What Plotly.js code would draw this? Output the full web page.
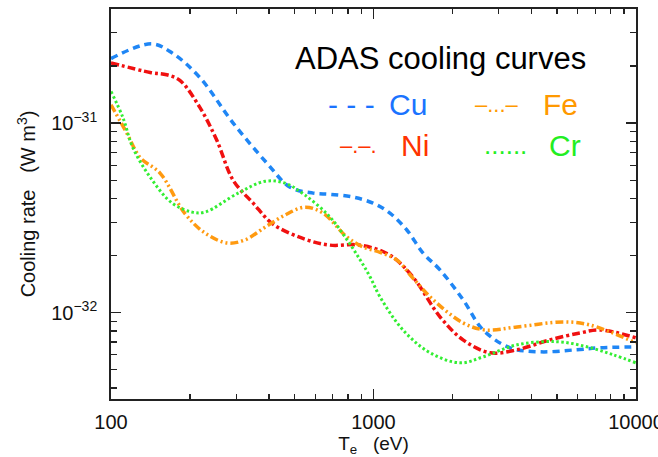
<!DOCTYPE html>
<html>
<head>
<meta charset="utf-8">
<script src="https://cdn.plot.ly/plotly-3.0.1.min.js"></script>
<style>html,body{margin:0;padding:0;background:#fff;}#chart{width:658px;height:457px;}</style>
</head>
<body>
<div id="chart"></div>
<script>
// Electron temperature (eV) and cooling rate (W m^3)
const cuTe = [100, 143, 172, 218, 292, 393, 481, 589, 683, 835, 996, 1155, 1342, 1545, 1792, 2193, 2613, 3311, 4306, 5954, 7290, 10000];
const cuL  = [2.19e-31, 2.62e-31, 2.33e-31, 1.74e-31, 1.0e-31, 6.14e-32, 4.59e-32, 4.27e-32, 4.21e-32, 4.07e-32, 3.78e-32, 3.35e-32, 2.72e-32, 2.06e-32, 1.68e-32, 1.17e-32, 8.11e-33, 6.52e-33, 6.21e-33, 6.37e-33, 6.52e-33, 6.6e-33];

const niTe = [100, 141, 163, 183, 218, 253, 292, 348, 414, 548, 683, 890, 1155, 1413, 1792, 2193, 2780, 3524, 4699, 6120, 7290, 10000];
const niL  = [2.08e-31, 1.85e-31, 1.80e-31, 1.68e-31, 1.21e-31, 8.11e-32, 4.99e-32, 3.78e-32, 2.93e-32, 2.44e-32, 2.27e-32, 2.27e-32, 2.01e-32, 1.54e-32, 9.5e-33, 7.18e-33, 6.14e-33, 6.37e-33, 7.18e-33, 7.81e-33, 8.1e-33, 7.36e-33];

const feTe = [100, 115, 129, 154, 191, 228, 277, 324, 386, 460, 548, 642, 793, 912, 1059, 1230, 1413, 1686, 2193, 2660, 3524, 5272, 6681, 10000];
const feL  = [1.25e-31, 8.83e-32, 6.59e-32, 5.43e-32, 3.34e-32, 2.63e-32, 2.33e-32, 2.42e-32, 2.82e-32, 3.27e-32, 3.6e-32, 3.35e-32, 2.5e-32, 2.22e-32, 2.08e-32, 1.89e-32, 1.52e-32, 1.17e-32, 8.83e-33, 8.1e-33, 8.4e-33, 8.93e-33, 8.6e-33, 6.92e-33];

const crTe = [100, 111, 121, 141, 171, 204, 228, 305, 386, 460, 548, 683, 793, 889, 971, 1059, 1294, 1641, 2138, 2613, 3524, 5000, 6500, 8166, 10000];
const crL  = [1.47e-31, 1.07e-31, 7.44e-32, 5.18e-32, 3.78e-32, 3.39e-32, 3.39e-32, 4.27e-32, 4.93e-32, 4.82e-32, 4.17e-32, 3.19e-32, 2.42e-32, 1.9e-32, 1.54e-32, 1.21e-32, 8.11e-33, 6.14e-33, 5.43e-33, 5.84e-33, 6.76e-33, 7.02e-33, 6.6e-33, 6.0e-33, 5.43e-33];

const xTickVals = [100, 1000, 10000];
const xTickText = ['100', '1000', '10000'];
const yTickVals = [1e-32, 1e-31];
const yTickText = ['10<sup>\u221232</sup>', '10<sup>\u221231</sup>'];
const xMinor = [200,300,400,500,600,700,800,900,2000,3000,4000,5000,6000,7000,8000,9000];
const yMinor = [4e-33,5e-33,6e-33,7e-33,8e-33,9e-33,2e-32,3e-32,4e-32,5e-32,6e-32,7e-32,8e-32,9e-32,2e-31,3e-31];

const FONT = 'Liberation Sans, Arial, Helvetica, sans-serif';
const cuColor = '#1f86f5', niColor = '#f01010', feColor = '#ff9a10', crColor = '#33ee33';

const traces = [
  {x: cuTe, y: cuL, name: 'Cu', mode: 'lines', line: {color: cuColor, width: 3.5, dash: '7px,5px', shape: 'spline', smoothing: 1}},
  {x: niTe, y: niL, name: 'Ni', mode: 'lines', line: {color: niColor, width: 3.5, dash: '8px,3px,3px,3px', shape: 'spline', smoothing: 1}},
  {x: feTe, y: feL, name: 'Fe', mode: 'lines', line: {color: feColor, width: 3.5, dash: '8px,3px,2px,3px,2px,3px', shape: 'spline', smoothing: 1}},
  {x: crTe, y: crL, name: 'Cr', mode: 'lines', line: {color: crColor, width: 3, dash: '2.5px,2.5px', shape: 'spline', smoothing: 1}}
];

const axisCommon = {
  showline: true, mirror: 'ticks', linecolor: '#222', linewidth: 1.8,
  ticks: 'inside', tickcolor: '#222', tickwidth: 1.4, ticklen: 10,
  showgrid: false, zeroline: false
};

function ann(x, y, text, size, color, xanchor) {
  return {xref: 'paper', yref: 'paper', x: x, y: y, text: text, showarrow: false,
          xanchor: xanchor || 'center', yanchor: 'middle',
          font: {size: size, color: color, family: FONT}};
}

const layout = {
  width: 658, height: 457,
  margin: {l: 111, r: 22, t: 9, b: 58},
  paper_bgcolor: '#fff', plot_bgcolor: '#fff',
  showlegend: false,
  font: {family: FONT, color: '#111', size: 20},
  xaxis: Object.assign({}, axisCommon, {
    type: 'log', range: [2, 4],
    tickmode: 'array', tickvals: xTickVals, ticktext: xTickText,
    tickfont: {size: 20, family: FONT, color: '#111'},
    ticklabeloverflow: 'allow',
    ticklabelstandoff: 4,
    minor: {tickmode: 'array', tickvals: xMinor, ticks: 'inside', ticklen: 5, tickwidth: 1.2, tickcolor: '#222'},
    title: {text: '  T<sub>e</sub>   (eV)', font: {size: 19, family: FONT, color: '#111'}, standoff: 3}
  }),
  yaxis: Object.assign({}, axisCommon, {
    type: 'log', range: [Math.log10(3.5e-33), Math.log10(4e-31)],
    tickmode: 'array', tickvals: yTickVals, ticktext: yTickText,
    tickfont: {size: 20, family: FONT, color: '#111'},
    ticklabelstandoff: 8,
    minor: {tickmode: 'array', tickvals: yMinor, ticks: 'inside', ticklen: 6, tickwidth: 1.2, tickcolor: '#222'},
    title: {text: 'Cooling rate   (W m<sup>3</sup>)', font: {size: 20, family: FONT, color: '#111'}, standoff: 10}
  }),
  annotations: [
    ann(0.627, 0.872, 'ADAS cooling curves', 31, '#000'),
    ann(0.459, 0.754, '- - -', 30, '#1a73ff'),
    ann(0.526, 0.754, 'Cu', 30, '#1a73ff', 'left'),
    ann(0.735, 0.754, '\u2013...\u2013', 22, '#ff9900'),
    ann(0.819, 0.754, 'Fe', 30, '#ff9900', 'left'),
    ann(0.472, 0.651, '\u2013.\u2013.', 22, '#ff3300'),
    ann(0.548, 0.651, 'Ni', 30, '#ff3300', 'left'),
    ann(0.752, 0.651, '......', 26, '#22ee22'),
    ann(0.830, 0.651, 'Cr', 30, '#22ee22', 'left')
  ]
};

Plotly.newPlot('chart', traces, layout, {displayModeBar: false, staticPlot: true});
</script>
</body>
</html>
